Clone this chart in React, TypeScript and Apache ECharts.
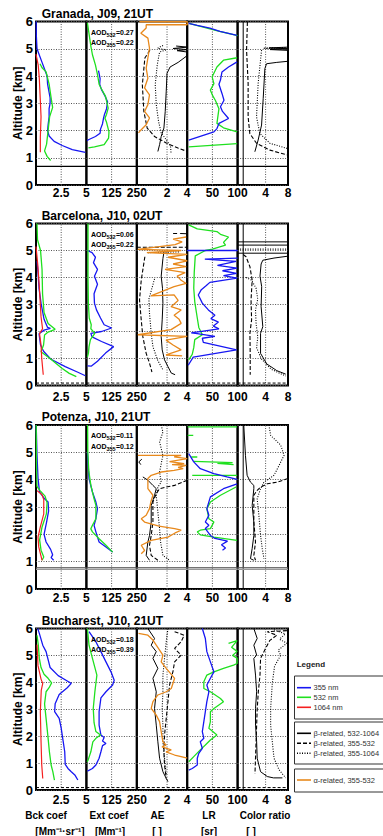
import React, { useEffect, useRef } from 'react';
import * as echarts from 'echarts';

type Pt = [number, number] | null;

// ---------- axis / text data ----------
const titles = ['Granada, J09, 21UT', 'Barcelona, J10, 02UT', 'Potenza, J10, 21UT', 'Bucharest, J10, 21UT'];
const aod532 = ['0.27', '0.06', '0.11', '0.18'];
const aod355 = ['0.22', '0.22', '0.12', '0.39'];
const stationAlt = [0.68, 0.09, 0.78, 0.09];
const panelMin = [0, 0, -1, 0, -1];
const panelMax = [5, 250, 4, 100, 8];
const panelInterval = [2.5, 125, 1, 50, 1];
const panelLabels = [[2.5, 5], [125, 250], [2, 4], [50, 100], [4, 8]];
const panelVGrid = [[2.5], [125], [2], [50], [4]];
const altTicks = [0, 1, 2, 3, 4, 5, 6];
const bottomNames = [['Bck coef', '[Mm⁻¹·sr⁻¹]'], ['Ext coef', '[Mm⁻¹]'], ['AE', '[ ]'], ['LR', '[sr]'], ['Color ratio', '[ ]']];
const legendA = ['355 nm', '532 nm', '1064 nm'];
const legendB = ['β-related, 532-1064', 'β-related, 355-532', 'β-related, 355-1064'];
const legendC = ['α-related, 355-532'];

// ---------- Granada ----------
const g_bck355: Pt[] = [[0.02,6.0],[0.03,5.5],[0.1,5.0],[0.3,4.8],[0.6,4.5],[0.9,4.2],[1.1,4.0],[1.15,3.7],[1.25,3.5],[1.4,3.2],[1.4,3.0],[1.3,2.8],[1.3,2.5],[1.2,2.2],[1.15,2.0],[1.3,1.8],[1.8,1.6],[2.6,1.45],[3.6,1.3],[4.9,1.2]];
const g_bck532: Pt[] = [[0.4,4.45],[0.6,4.3],[1.0,4.15],[1.3,3.7],[1.5,3.2],[1.65,2.85],[1.35,2.5],[1.2,2.0],[1.05,1.5],[0.85,1.25],[1.1,1.05],[1.45,0.9]];
const g_bck1064: Pt[] = [[0.0,4.8],[0.22,4.4],[0.33,3.9],[0.43,3.1],[0.5,2.5],[0.43,1.75],[0.43,1.2]];
const g_ext355: Pt[] = [[60,4.2],[68,3.9],[66,3.7],[75,3.5],[90,3.3],[105,3.05],[100,2.8],[90,2.6],[85,2.45],[80,2.25],[70,2.05],[68,1.9],[45,1.78],[10,1.66],[3,1.63]];
const g_ext532: Pt[] = [[5,5.95],[12,5.6],[22,5.1],[30,4.78],[45,4.4],[55,4.05],[63,3.7],[72,3.56],[95,3.25],[108,2.82],[100,2.6],[92,2.45],[100,2.3],[105,2.15],[112,1.95],[110,1.72],[88,1.48],[40,1.4],[10,1.36]];
const g_aeOr: Pt[] = [[-0.73,5.99],[4.0,5.99],[4.0,5.88],[-0.07,5.88],[-0.07,5.76],[-0.6,5.57],[0.1,5.39],[0.26,5.02],[0.1,4.66],[-0.07,4.29],[0.1,3.92],[-0.23,3.56],[0.26,3.31],[0.1,2.95],[-0.23,2.7],[0.26,2.46],[-0.07,2.21],[-0.56,2.03],[-0.83,1.91]];
const g_aeSolid: Pt[] = [[2.9,5.1],[4,5.06],[2.6,5.01],[4,4.97],[3.0,4.93],[4,4.88],null,[4,4.8],[3.9,4.72],[3.1,4.5],[2.3,4.33],[2.0,4.1],[1.92,3.44],[1.82,2.7],[1.69,2.09],[1.42,1.78],[1.26,1.48],[1.09,1.23]];
const g_aeDash: Pt[] = [[0.3,4.95],[-0.2,4.66],[-0.45,3.68],[-0.3,2.7],[0.03,2.09],[0.76,1.78],[1.92,1.54],[3.08,1.36],[4.0,1.23]];
const g_aeDot: Pt[] = [[1.6,5.12],[1.05,5.02],[1.9,4.96],[1.26,4.88],[1.03,4.41],[0.83,3.68],[0.93,2.95],[1.16,2.33],[1.42,1.91],[1.92,1.66],[2.35,1.42],[2.4,1.15]];
const g_lr355: Pt[] = [[3,5.93],[20,5.86],[45,5.76],[65,5.64],[99,5.49],null,[99,4.52],[82,4.33],[69,4.15],[66,3.85],[63,3.7],[69,3.36],[73,3.11],[66,2.87],[70,2.7],[82,2.44],[63,2.26],[59,2.07],[53,1.95],[3,1.65]];
const g_lr532: Pt[] = [[5,5.92],[30,5.8],[60,5.66],[100,5.48],null,[99,4.67],[72,4.58],[59,4.33],[49.5,3.97],[53,3.72],[46,3.48],[50,3.3],[56,3.1],[63,2.8],[59,2.26],[72,2.1],[99,1.95],null,[99,1.52],[3,1.4]];
const g_crSolid: Pt[] = [[8,5.06],[4.6,5.03],[8,5.0],[4.8,4.97],[8,4.94],null,[8,4.54],[6.0,4.5],[4.17,4.45],[3.87,4.27],[3.57,3.17],[3.28,2.2],[2.67,1.65],[2.08,1.22]];
const g_crDash: Pt[] = [[0.75,5.98],[0.6,4.95],[0.88,3.73],[0.88,2.5],[1.18,1.89],[2.38,1.53],[4.77,1.28],[7.9,1.1]];
const g_crDot: Pt[] = [[8,5.05],[3.6,5.02],[8,4.98],null,[3.28,4.95],[2.97,4.33],[2.67,3.73],[2.38,2.5],[2.97,1.89],[4.77,1.53],[7.9,1.34]];

// ---------- Barcelona ----------
const b_bck355: Pt[] = [[0.1,4.6],[0.2,4.2],[0.3,3.6],[0.5,3.05],[0.8,2.45],[1.15,2.15],[1.43,2.12],[0.8,2.05],[0.3,1.92],[0.45,1.5],[0.75,1.27],[1.45,0.98],[2.9,0.7],[4.1,0.5],[4.9,0.36]];
const b_bck532: Pt[] = [[0.1,6.0],[0.15,5.4],[0.45,5.0],[0.6,4.3],[0.65,3.4],[0.8,2.7],[1.2,2.3],[1.9,2.08],[1.2,1.98],[0.85,1.87],[0.75,1.5],[0.5,1.25],[1.45,0.98],[2.6,0.63],[3.3,0.45],[4.0,0.33]];
const b_bck1064: Pt[] = [[0.0,5.15],[0.17,4.5],[0.33,3.65],[0.5,2.55],[0.65,2.1],[0.35,1.92],[0.5,1.5],[0.57,1.0],[0.72,0.4]];
const b_ext355: Pt[] = [[5,5.0],[28,4.92],[45,4.75],[35,4.55],[55,4.3],[40,4.05],[55,3.75],[38,3.4],[40,3.05],[50,2.8],[70,2.5],[88,2.25],[125,2.13],[75,2.0],[22,1.93],[28,1.8],[75,1.63],[135,1.44],[95,1.2],[55,0.9],[25,0.72],[5,0.73]];
const b_ext532: Pt[] = [[8,6.0],[8,4.0],[10,3.0],[14,2.5],[24,2.25],[22,2.1],[42,1.93],[20,1.7],[13,1.44],[10,1.2],[5,1.05]];
const b_aeOr: Pt[] = [[3.9,5.5],[2.6,5.42],[3.5,5.32],[2.8,5.22],[-0.9,5.04],[3.4,5.0],[0.0,4.92],[4.0,4.86],[2.1,4.75],[4.0,4.62],[2.6,4.5],[3.9,4.4],[1.8,4.3],[3.8,4.18],[3.0,4.05],[3.4,3.9],[3.9,3.78],[2.7,3.66],[0.4,3.32],[2.7,3.36],[3.1,3.15],[2.4,2.92],[3.4,2.8],[2.7,2.6],[3.2,2.45],[3.4,2.3],[2.4,2.07],[-0.9,1.88],[4.0,1.82],[1.9,1.68],[2.6,1.5],[3.4,1.32],[1.9,1.13],[3.5,1.1]];
const b_aeSolid: Pt[] = [[3.3,5.63],[4.0,5.62],null,[1.7,4.95],[1.59,4.7],[1.42,4.05],[1.55,3.6],[1.59,3.04],[1.52,2.43],[1.42,1.81],[1.52,1.32],[1.75,0.95],[2.09,0.7],[2.42,0.46],[2.8,0.4]];
const b_aeDash: Pt[] = [[2.6,5.63],[3.2,5.63],null,[-1,5.12],[4,5.12],null,[-0.2,4.77],[-0.56,3.9],[-0.73,3.17],[-0.56,2.43],[-0.4,1.81],[-0.07,1.19],[0.26,0.83],[0.5,0.5]];
const b_aeDot: Pt[] = [[0.1,4.92],[3.2,4.95],null,[0.76,3.95],[0.5,3.6],[0.2,3.2],[0.26,2.67],[0.43,1.93],[0.6,1.44],[1.05,0.95],[1.59,0.58]];
const b_lr355: Pt[] = [[0,5.0],[100,5.0],null,[100,4.72],[35,4.68],[97,4.6],[60,4.45],[99,4.35],[70,4.25],[98,4.15],[72,4.07],[99,3.98],[45,3.82],[38,3.7],[28,3.55],[22,3.35],[30,3.05],[42,2.8],[55,2.6],[47,2.48],[62,2.35],[52,2.2],[63,2.1],[8,1.95],[20,1.92],[55,1.82],[30,1.75],[32,1.6],[98,1.32],[12,1.05],[2,0.75]];
const b_lr532: Pt[] = [[3,5.95],[20,5.8],[59,5.7],[66,5.6],[82,5.5],[72,5.3],[76,5.2],[50,5.05],[36,5.0],[16,4.8],[14,4.2],[13,3.6],[15,3.1],[20,2.5],[23,2.15],[30,1.88],[15,1.7],[13,1.4],[10,1.15],[3,0.95]];
const b_crSolid: Pt[] = [[-1,5.32],[8,5.32],[8,5.2],[-1,5.2],null,[-1,4.9],[8,4.9],null,[8,4.79],[5.5,4.72],[3.5,4.64],[3.2,4.5],[3.0,4.05],[3.3,3.66],[3.2,2.92],[3.5,2.18],[3.1,1.93],[3.1,1.19],[4.2,0.8],[6.0,0.55],[7.6,0.42]];
const b_crDash: Pt[] = [[0.0,4.85],[0.5,4.77],[1.2,4.4],[1.6,3.9],[1.4,3.17],[1.5,2.43],[1.2,1.94],[1.25,1.19],[1.25,0.4]];
const b_crDot: Pt[] = [[-1,5.05],[8,5.05],null,[0.5,4.0],[1.5,3.9],[2.3,3.6],[2.6,3.2],[2.2,2.8],[2.3,2.3],[2.6,1.8],[2.4,1.4],[3.2,1.0],[5,0.6],[7.6,0.35]];

// ---------- Potenza ----------
const p_bck355: Pt[] = [[0.02,6.0],[0.1,4.9],[0.2,4.05],[0.35,3.55],[0.85,3.3],[1.2,3.18],[1.25,2.85],[1.05,2.45],[0.8,2.0],[1.0,1.72],[1.45,1.45],[1.65,1.25],[1.5,1.15],[1.75,1.05]];
const p_bck532: Pt[] = [[0.02,6.0],[0.05,4.5],[0.1,3.75],[0.4,3.6],[0.9,3.4],[1.1,3.15],[1.03,2.75],[0.6,2.27],[0.36,1.8],[0.5,1.42],[0.77,1.17],[0.6,1.05]];
const p_bck1064: Pt[] = [[0.1,3.6],[0.6,3.45],[0.77,3.27],[0.77,2.75],[0.43,2.27],[0.2,1.9],[0.27,1.54],[0.43,1.3],[0.6,1.05]];
const p_ext355: Pt[] = [[5,5.0],[13,4.04],[30,3.55],[47,3.18],[55,2.94],[47,2.57],[38,2.33],[47,2.09],[63,1.72],[97,1.54],[130,1.35]];
const p_ext532: Pt[] = [[6,6.0],[7,5.0],[12,4.3],[22,3.8],[38,3.3],[47,3.06],[47,2.57],[30,2.33],[22,2.2],[30,2.09],[63,1.84],[97,1.6],[130,1.35]];
const p_aeOr: Pt[] = [[-0.9,4.89],[3.4,4.89],[2.7,4.83],[4.0,4.77],[2.25,4.66],[3.7,4.59],[2.5,4.55],[3.9,4.52],[3.1,4.45],[3.6,4.4],[2.7,4.34],[1.42,4.28],[0.43,4.16],[0.1,4.04],[0.1,3.67],[0.6,3.43],[0.4,3.2],[0.26,2.94],[-0.07,2.7],[-0.56,2.57],[-0.23,2.45],[1.2,2.3],[2.75,2.21],[3.4,2.15],[2.8,2.05],[2.09,1.9],[0.43,1.78],[-0.56,1.6],[-0.23,1.41],[-0.56,1.29]];
const p_aeSolid: Pt[] = [[-0.5,4.75],[-0.8,4.65],[-0.6,4.55],null,[-0.4,4.1],[0.1,3.98],[0.6,3.79],[0.93,3.67],[0.76,3.43],[0.43,3.06],[0.43,2.45],[0.26,1.96],[0.1,1.72],[-0.07,1.23],[0.26,1.05]];
const p_aeDash: Pt[] = [[4.0,3.98],[2.75,3.79],[1.92,3.73],[1.26,3.67],[0.93,3.49],[0.6,3.18],[0.6,2.45],[0.43,1.96],[0.26,1.6],[0.43,1.23],[1.09,1.05]];
const p_aeDot: Pt[] = [[1.42,6.0],[1.59,5.74],[1.26,5.38],[1.59,4.89],[1.26,4.28],[1.42,3.91],[1.09,3.73],[0.93,3.43],[1.09,2.82],[1.26,2.21],[1.36,1.72],[1.59,1.23],[2.25,1.05]];
const p_lr355: Pt[] = [[3,4.95],[13,4.65],[26,4.4],[53,4.22],[79,4.1],[99,4.01],null,[99,3.85],[72,3.67],[46,3.37],[39,2.94],[43,2.7],[36,2.45],[43,2.33],[36,2.21],[46,1.96],[55,1.85],[80,1.75],[68,1.62],[76,1.5],[70,1.42]];
const p_lr532: Pt[] = [[1,5.93],[99,5.93],null,[1,5.62],[12,5.62],null,[8,4.83],[20,4.83],null,[13,4.67],[90,4.62],[60,4.6],[92,4.55],null,[10,4.16],[99,4.16],null,[97,3.73],[66,3.43],[46,3.18],[39,2.94],[43,2.57],[53,2.45],[46,2.21],[26,2.15],[20,2.09],[26,1.98],[53,1.9],[99,1.78]];
const p_crSolid: Pt[] = [[0.1,6.0],[0.4,4.89],[0.7,4.16],[1.3,3.91],[1.9,3.79],[1.9,3.67],[1.6,3.06],[1.9,2.45],[1.9,1.96],[1.6,1.48],[1.3,1.11],[1.9,1.05]];
const p_crDash: Pt[] = [[8,4.04],[6.1,3.91],[4.3,3.85],[3.1,3.73],[2.5,3.61],[1.9,3.43],[1.9,2.45],[2.2,1.72],[1.9,1.23],[2.2,1.05]];
const p_crDot: Pt[] = [[4.6,6.0],[4.9,5.62],[6.7,5.26],[7.3,4.89],[6.4,4.52],[5.5,4.16],[3.7,3.91],[3.1,3.67],[2.5,3.3],[2.8,2.7],[3.1,1.96],[3.4,1.48],[3.7,1.11]];

// ---------- Bucharest ----------
const u_bck355: Pt[] = [[0.17,6.0],[0.33,5.82],[0.67,5.38],[1.0,5.14],[1.17,4.89],[1.4,4.55],[2.2,4.25],[3.1,4.05],[3.5,3.96],[3.1,3.8],[2.3,3.55],[1.9,3.2],[1.85,2.91],[2.3,2.66],[2.5,2.3],[2.65,1.92],[2.85,1.42],[2.9,0.95],[3.17,0.8],[3.5,0.68],[3.85,0.56],[4.15,0.37]];
const u_bck532: Pt[] = [[0.1,5.75],[0.23,5.38],[0.33,4.89],[0.5,4.55],[0.8,4.3],[1.2,4.15],[1.55,3.98],[1.3,3.8],[1.0,3.65],[0.85,3.2],[1.0,2.66],[1.17,2.04],[1.33,1.42],[1.5,0.93],[1.67,0.68],[1.83,0.37]];
const u_bck1064: Pt[] = [[0.1,5.4],[0.2,4.62],[0.5,4.12],[0.67,3.96],[0.52,3.7],[0.43,2.9],[0.5,1.8],[0.57,0.93],[0.67,0.43]];
const u_ext355: Pt[] = [[13,5.88],[47,5.51],[72,5.14],[97,4.76],[122,4.39],[138,4.08],[130,3.9],[97,3.65],[72,3.42],[63,2.91],[63,2.41],[72,2.04],[88,1.95],[80,1.82],[97,1.73],[80,1.65],[72,1.42],[63,1.18],[47,0.93],[30,0.8],[5,0.7]];
const u_ext532: Pt[] = [[5,6.0],[13,5.38],[30,4.89],[52,4.27],[42,3.65],[34,3.03],[38,2.5],[47,2.17],[70,2.04],[47,1.92],[32,1.79],[22,1.42],[8,1.1],[3,1.05]];
const u_aeOr: Pt[] = [[-0.83,5.82],[0.1,5.75],[0.6,5.57],[0.93,5.38],[1.26,5.2],[1.59,5.01],[1.42,4.76],[1.92,4.52],[2.75,4.15],[2.42,3.77],[1.92,3.65],[1.09,3.53],[0.6,3.28],[0.43,3.03],[0.93,2.78],[1.26,2.54],[1.42,2.17],[1.59,1.79],[1.9,1.67],[1.5,1.6],[2.42,1.49],[1.9,1.42],[2.75,1.3],[3.4,1.24],[4.0,1.18]];
const u_aeSolid: Pt[] = [[0.1,6.0],[0.76,5.63],[0.43,5.38],[0.93,5.14],[0.6,4.89],[1.09,4.52],[0.6,4.15],[0.93,3.65],[0.76,3.03],[0.93,2.41],[1.09,1.79],[1.26,1.18],[1.59,0.68],[1.92,0.43],[2.09,0.31]];
const u_aeDash: Pt[] = [[2.75,5.88],[3.7,5.75],[3.4,5.51],[2.75,5.26],[3.4,5.01],[2.75,4.76],[2.58,4.39],[2.25,3.9],[2.09,3.28],[1.92,2.66],[1.75,2.04],[1.69,1.42],[1.75,0.93],[1.92,0.43]];
const u_aeDot: Pt[] = [[2.09,6.0],[1.92,5.51],[1.75,4.89],[1.59,4.27],[1.59,3.65],[1.52,3.03],[1.59,2.41],[1.59,1.79],[1.75,1.18],[1.92,0.56]];
const u_lr355: Pt[] = [[30,6.0],[36,5.63],[39,5.14],[46,4.76],[53,4.39],[46,4.15],[39,3.9],[43,3.65],[39,3.28],[36,2.91],[33,2.54],[30,2.17],[33,1.92],[26,1.79],[30,1.55],[23,1.36],[20,1.18],[20,0.93],[10,0.8],[3,0.74]];
const u_lr532: Pt[] = [[82,5.45],[99,5.55],[88,5.3],[99,5.15],[90,5.0],[99,4.9],[99,4.7],[92,4.64],[72,4.52],[53,4.39],[39,4.27],[33,4.02],[33,3.77],[46,3.65],[66,3.4],[72,3.28],[53,3.03],[46,2.91],[46,2.54],[43,2.29],[59,2.04],[46,1.86],[36,1.67],[26,1.49],[13,1.24],[3,1.05]];
const u_crSolid: Pt[] = [[1.9,6.0],[2.5,5.63],[1.9,5.38],[2.4,5.01],[1.9,4.89],[2.2,4.27],[2.4,3.65],[2.2,3.03],[2.2,2.41],[2.4,1.79],[2.5,1.18],[3.1,0.68],[4.3,0.5],[5.4,0.45],[7.0,0.45]];
const u_crDash: Pt[] = [[7.8,5.92],[4.3,5.88],[6.0,5.75],[4.77,5.56],[4.3,5.38],[3.7,5.14],[3.1,4.89],[3.0,4.27],[2.7,3.65],[2.5,3.0],[2.4,2.4],[2.3,1.8],[2.2,1.2],[2.1,0.6]];
const u_crDot: Pt[] = [[5.5,5.95],[7.5,5.8],[6.5,5.6],[7.8,5.45],[6.26,5.2],[6.7,5.01],[5.6,4.6],[5.2,3.97],[4.9,3.03],[4.9,2.41],[5.2,1.79],[5.5,1.18],[6.4,0.75],[7.6,0.45]];

// ---------- layout / style ----------
const FONT = "'Liberation Sans', Arial, sans-serif";
const panelX0 = 36;
const panelW = 50.4;
const rowTop = [21.5, 223.5, 425, 628.5];
const rowH = [163.5, 162, 164, 161.5];
const labelMargin = [2, 5, 3, 4];
const COL = { blue: '#1717f2', green: '#1fe01f', red: '#f52020', orange: '#e8891c', black: '#000000' };
const STY: Record<string, any> = {
  blue: { color: COL.blue, width: 1.3, type: 'solid' },
  green: { color: COL.green, width: 1.3, type: 'solid' },
  red: { color: COL.red, width: 1.2, type: 'solid' },
  orange: { color: COL.orange, width: 1.3, type: 'solid' },
  solid: { color: '#000', width: 1, type: 'solid' },
  dash: { color: '#000', width: 1.1, type: [4, 2] },
  dot: { color: '#000', width: 1.1, type: [1, 1.5] },
};

const rows: [number, Pt[], string][][] = [
  [[0,g_bck355,'blue'],[0,g_bck532,'green'],[0,g_bck1064,'red'],[1,g_ext355,'blue'],[1,g_ext532,'green'],[2,g_aeDot,'dot'],[2,g_aeDash,'dash'],[2,g_aeSolid,'solid'],[2,g_aeOr,'orange'],[3,g_lr532,'green'],[3,g_lr355,'blue'],[4,g_crDot,'dot'],[4,g_crDash,'dash'],[4,g_crSolid,'solid']],
  [[0,b_bck355,'blue'],[0,b_bck532,'green'],[0,b_bck1064,'red'],[1,b_ext355,'blue'],[1,b_ext532,'green'],[2,b_aeDot,'dot'],[2,b_aeDash,'dash'],[2,b_aeSolid,'solid'],[2,b_aeOr,'orange'],[3,b_lr532,'green'],[3,b_lr355,'blue'],[4,b_crDot,'dot'],[4,b_crDash,'dash'],[4,b_crSolid,'solid']],
  [[0,p_bck355,'blue'],[0,p_bck532,'green'],[0,p_bck1064,'red'],[1,p_ext355,'blue'],[1,p_ext532,'green'],[2,p_aeDot,'dot'],[2,p_aeDash,'dash'],[2,p_aeSolid,'solid'],[2,p_aeOr,'orange'],[3,p_lr532,'green'],[3,p_lr355,'blue'],[4,p_crDot,'dot'],[4,p_crDash,'dash'],[4,p_crSolid,'solid']],
  [[0,u_bck355,'blue'],[0,u_bck532,'green'],[0,u_bck1064,'red'],[1,u_ext355,'blue'],[1,u_ext532,'green'],[2,u_aeDot,'dot'],[2,u_aeDash,'dash'],[2,u_aeSolid,'solid'],[2,u_aeOr,'orange'],[3,u_lr532,'green'],[3,u_lr355,'blue'],[4,u_crDot,'dot'],[4,u_crDash,'dash'],[4,u_crSolid,'solid']],
];

function splitSegs(pts: Pt[]): [number, number][][] {
  const out: [number, number][][] = [];
  let cur: [number, number][] = [];
  for (const p of pts) {
    if (p === null) { if (cur.length) out.push(cur); cur = []; }
    else cur.push(p);
  }
  if (cur.length) out.push(cur);
  return out;
}

function buildOption() {
  const grid: any[] = [];
  const xAxis: any[] = [];
  const yAxis: any[] = [];
  const series: any[] = [];
  const graphic: any[] = [];

  for (let r = 0; r < 4; r++) {
    for (let c = 0; c < 5; c++) {
      const gi = r * 5 + c;
      grid.push({ left: panelX0 + c * panelW, top: rowTop[r], width: panelW, height: rowH[r], show: true, borderColor: '#000', borderWidth: 2, backgroundColor: 'transparent', containLabel: false });
      const labs = panelLabels[c];
      xAxis.push({
        gridIndex: gi, type: 'value', min: panelMin[c], max: panelMax[c], interval: panelInterval[c],
        axisLine: { show: false }, axisTick: { show: false }, splitLine: { show: false },
        axisLabel: {
          show: true, margin: labelMargin[r], fontSize: 12, fontWeight: 'bold', color: '#000', fontFamily: FONT,
          formatter: (v: number) => (labs.some((l) => Math.abs(l - v) < 1e-6) ? String(v) : ''),
        },
      });
      yAxis.push({
        gridIndex: gi, type: 'value', min: altTicks[0], max: altTicks[altTicks.length - 1], interval: 1,
        axisLine: { show: false }, axisTick: { show: false },
        splitLine: { show: true, lineStyle: { color: '#555', width: 1, type: [1, 1.5] } },
        axisLabel: { show: c === 0, margin: 3, fontSize: 13, fontWeight: 'bold', color: '#000', fontFamily: FONT },
      });
      // vertical gridlines
      for (const v of panelVGrid[c]) {
        series.push({ type: 'line', xAxisIndex: gi, yAxisIndex: gi, data: [[v, 0], [v, 6]], symbol: 'none', silent: true, z: 1, lineStyle: { color: '#555', width: 1, type: [1, 1.5] } });
      }
      if (c === 4) {
        series.push({ type: 'line', xAxisIndex: gi, yAxisIndex: gi, data: [[0, 0], [0, 6]], symbol: 'none', silent: true, z: 1, lineStyle: { color: '#000', width: 1 } });
      }
      // station altitude line
      const sa = stationAlt[r];
      if (r === 0) {
        series.push({ type: 'line', xAxisIndex: gi, yAxisIndex: gi, data: [[panelMin[c], sa], [panelMax[c], sa]], symbol: 'none', silent: true, z: 2, lineStyle: { color: '#000', width: 1.2 } });
      } else if (r === 2) {
        series.push({ type: 'line', xAxisIndex: gi, yAxisIndex: gi, data: [[panelMin[c], sa], [panelMax[c], sa]], symbol: 'none', silent: true, z: 2, lineStyle: { color: '#555', width: 1 } });
        series.push({ type: 'line', xAxisIndex: gi, yAxisIndex: gi, data: [[panelMin[c], sa - 0.06], [panelMax[c], sa - 0.06]], symbol: 'none', silent: true, z: 2, lineStyle: { color: '#999', width: 1.5 } });
      } else {
        series.push({ type: 'line', xAxisIndex: gi, yAxisIndex: gi, data: [[panelMin[c], sa], [panelMax[c], sa]], symbol: 'none', silent: true, z: 2, lineStyle: { color: '#000', width: 1, type: [3, 2] } });
      }
    }
    // curves
    for (const [c, pts, sk] of rows[r]) {
      const gi = r * 5 + c;
      const st = STY[sk];
      for (const seg of splitSegs(pts)) {
        series.push({ type: 'line', xAxisIndex: gi, yAxisIndex: gi, data: seg, symbol: 'none', showSymbol: false, silent: true, z: 3, lineStyle: { color: st.color, width: st.width, type: st.type } });
      }
    }
    // title
    graphic.push({ type: 'text', x: 41.7, y: rowTop[r] - 7.7, style: { text: titles[r], fontSize: 12, fontWeight: 'bold', fontFamily: FONT, fill: '#000', align: 'left', verticalAlign: 'middle' } });
    // altitude label
    graphic.push({ type: 'text', x: 18, y: rowTop[r] + rowH[r] / 2, rotation: Math.PI / 2, style: { text: 'Altitude [km]', fontSize: 12, fontWeight: 'bold', fontFamily: FONT, fill: '#000', align: 'center', verticalAlign: 'middle' } });
    // AOD texts
    const ax = panelX0 + panelW + 4.5;
    const lines: [string, string, number][] = [['532', aod532[r], 10.5], ['355', aod355[r], 21]];
    for (const [sub, val, dy] of lines) {
      const yy = rowTop[r] + dy;
      graphic.push({ type: 'text', x: ax, y: yy, z: 10, style: { text: 'AOD', fontSize: 7, fontWeight: 'bold', fontFamily: FONT, fill: '#000', align: 'left', verticalAlign: 'middle' } });
      graphic.push({ type: 'text', x: ax + 15.6, y: yy + 2.8, z: 10, style: { text: sub, fontSize: 5.5, fontWeight: 'bold', fontFamily: FONT, fill: '#000', align: 'left', verticalAlign: 'middle' } });
      graphic.push({ type: 'text', x: ax + 25, y: yy, z: 10, style: { text: '=' + val, fontSize: 7, fontWeight: 'bold', fontFamily: FONT, fill: '#000', align: 'left', verticalAlign: 'middle' } });
    }
  }

  // bottom axis names
  const nameX = [[46, 60], [109, 110], [157.5, 157], [209, 209], [265, 251]];
  for (let c = 0; c < 5; c++) {
    graphic.push({ type: 'text', x: nameX[c][0], y: 815, style: { text: bottomNames[c][0], fontSize: 10, fontWeight: 'bold', fontFamily: FONT, fill: '#000', align: 'center', verticalAlign: 'middle' } });
    graphic.push({ type: 'text', x: nameX[c][1], y: 831, style: { text: bottomNames[c][1], fontSize: 10, fontWeight: 'bold', fontFamily: FONT, fill: '#000', align: 'center', verticalAlign: 'middle' } });
  }

  // legend
  graphic.push({ type: 'text', x: 296.7, y: 664, style: { text: 'Legend', fontSize: 8, fontWeight: 'bold', fontFamily: FONT, fill: '#222', align: 'left', verticalAlign: 'middle' } });
  const boxes: [number, number][] = [[676, 43], [722, 42], [769, 23]];
  for (const [by, bh] of boxes) {
    graphic.push({ type: 'rect', shape: { x: 294.5, y: by, width: 100, height: bh }, style: { fill: 'none', stroke: '#333', lineWidth: 1 } });
  }
  const entries: [string, number, any][] = [
    [legendA[0], 687.7, STY.blue], [legendA[1], 697.3, STY.green], [legendA[2], 707.3, STY.red],
    [legendB[0], 733.3, STY.solid], [legendB[1], 743.3, STY.dash], [legendB[2], 753.3, STY.dot],
    [legendC[0], 780, STY.orange],
  ];
  for (const [t, y, st] of entries) {
    graphic.push({ type: 'line', shape: { x1: 297, y1: y, x2: 311, y2: y }, style: { stroke: st.color, lineWidth: 1.6, lineDash: Array.isArray(st.type) ? st.type : null } });
    graphic.push({ type: 'text', x: 313.5, y, style: { text: t, fontSize: 7.5, fontFamily: FONT, fill: '#333', align: 'left', verticalAlign: 'middle' } });
  }

  return {
    animation: false,
    backgroundColor: '#fff',
    textStyle: { fontFamily: FONT },
    grid, xAxis, yAxis, series, graphic,
  };
}

export default function App() {
  const ref = useRef<HTMLDivElement>(null);
  useEffect(() => {
    document.body.style.margin = '0';
    const chart = echarts.init(ref.current as HTMLDivElement, null, { renderer: 'svg' });
    chart.setOption(buildOption() as any);
    return () => chart.dispose();
  }, []);
  return <div ref={ref} style={{ width: 383, height: 836 }} />;
}
